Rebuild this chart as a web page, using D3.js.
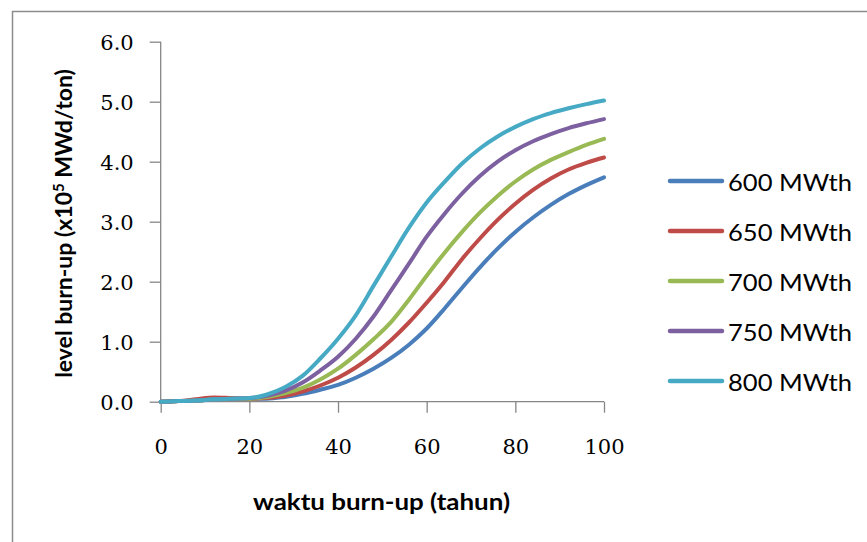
<!DOCTYPE html>
<html><head><meta charset="utf-8">
<script src="https://cdn.jsdelivr.net/npm/d3@7"></script>
<style>body{margin:0;background:#fff}svg{display:block}</style>
</head><body><svg id="c" width="867" height="542"></svg>
<script>
const years = [0,4,8,12,16,20,24,28,32,36,40,44,48,52,56,60,64,68,72,76,80,84,88,92,96,100];
const s600 = [0,0.01,0.02,0.04,0.05,0.05,0.05,0.08,0.13,0.20,0.28,0.40,0.55,0.73,0.95,1.22,1.55,1.90,2.24,2.55,2.83,3.07,3.28,3.46,3.61,3.74];
const s650 = [0,0.01,0.04,0.07,0.06,0.05,0.06,0.10,0.17,0.27,0.40,0.57,0.78,1.03,1.32,1.65,2.00,2.38,2.72,3.03,3.30,3.53,3.72,3.87,3.98,4.07];
const s700 = [0,0.01,0.02,0.04,0.05,0.05,0.08,0.14,0.23,0.37,0.55,0.78,1.04,1.33,1.70,2.10,2.48,2.83,3.15,3.43,3.67,3.87,4.03,4.16,4.28,4.38];
const s750 = [0,0.01,0.02,0.04,0.05,0.06,0.10,0.18,0.32,0.52,0.75,1.05,1.42,1.86,2.30,2.75,3.13,3.47,3.76,4.00,4.19,4.34,4.46,4.56,4.64,4.71];
const s800 = [0,0.01,0.02,0.04,0.05,0.06,0.12,0.24,0.43,0.72,1.05,1.44,1.93,2.42,2.90,3.32,3.66,3.97,4.22,4.42,4.58,4.71,4.81,4.89,4.96,5.02];
const seriesNames = ["600 MWth","650 MWth","700 MWth","750 MWth","800 MWth"];
const seriesColors = ["#4A7EBB","#BE4B48","#98B954","#7D60A0","#46AAC5"];
const xTicks = [0,20,40,60,80,100];
const yTicks = [0,1,2,3,4,5,6];
const xTitle = "waktu burn-up (tahun)";
const yTitleA = "level burn-up (x10", yTitleSup = "5", yTitleB = " MWd/ton)";

const allSeries = [s600,s650,s700,s750,s800];
const svg = d3.select("#c");
svg.append("path").attr("d","M12.5,542 L12.5,11.5 L867,11.5").attr("fill","none").attr("stroke","#8c8c8c").attr("stroke-width",1.5);

const x = d3.scaleLinear().domain([0,100]).range([160.7,604]);
const y = d3.scaleLinear().domain([0,6]).range([401.7,41.7]);
const axisColor = "#868686";

const gx = svg.append("g").attr("transform","translate(0,401.7)")
  .call(d3.axisBottom(x).tickValues(xTicks).tickSize(11).tickPadding(25).tickFormat(d3.format("d")));
const gy = svg.append("g").attr("transform","translate(160.7,0)")
  .call(d3.axisLeft(y).tickValues(yTicks).tickSize(11).tickPadding(16).tickFormat(d3.format(".1f")));
[gx,gy].forEach(g=>{
  g.select(".domain").attr("stroke",axisColor).attr("stroke-width",1.3);
  g.selectAll(".tick line").attr("stroke",axisColor).attr("stroke-width",1.3);
  g.selectAll(".tick text").attr("font-family","'DejaVu Serif', serif").attr("font-size",21).attr("fill","#000");
});
gx.select(".domain").attr("d","M160.7,0H604");
gy.select(".domain").attr("d","M0,41.7V401.7");
gx.selectAll(".tick text").attr("dy",0).attr("y",52);
gy.selectAll(".tick text").attr("dy","0.36em");

const line = d3.line().x((d,i)=>x(years[i])).y(d=>y(d)).curve(d3.curveMonotoneX);
allSeries.forEach((s,i)=>{
  svg.append("path").datum(s).attr("d",line).attr("fill","none")
    .attr("stroke",seriesColors[i]).attr("stroke-width",4).attr("stroke-linejoin","round").attr("stroke-linecap","round");
});

const leg = svg.append("g");
seriesNames.forEach((n,i)=>{
  const ly = 181 + i*50;
  leg.append("line").attr("x1",670).attr("x2",722).attr("y1",ly).attr("y2",ly)
    .attr("stroke",seriesColors[i]).attr("stroke-width",4.5).attr("stroke-linecap","round");
  leg.append("text").attr("x",728).attr("y",ly+10).text(n)
    .attr("font-family","Lato, 'Open Sans', sans-serif").attr("font-size",24)
    .attr("textLength",124).attr("lengthAdjust","spacingAndGlyphs").attr("fill","#000");
});

svg.append("text").attr("x",381.5).attr("y",510).attr("text-anchor","middle")
  .attr("font-family","Lato, 'Open Sans', sans-serif").attr("font-weight","bold").attr("font-size",23)
  .attr("textLength",257).attr("lengthAdjust","spacingAndGlyphs").text(xTitle);
const yt = svg.append("text").attr("transform","translate(72,223.5) rotate(-90)").attr("text-anchor","middle")
  .attr("font-family","Lato, 'Open Sans', sans-serif").attr("font-weight","bold").attr("font-size",23);
yt.append("tspan").text(yTitleA);
yt.append("tspan").attr("dy",-8).attr("font-size",15).text(yTitleSup);
yt.append("tspan").attr("dy",8).text(yTitleB);
</script></body></html>
